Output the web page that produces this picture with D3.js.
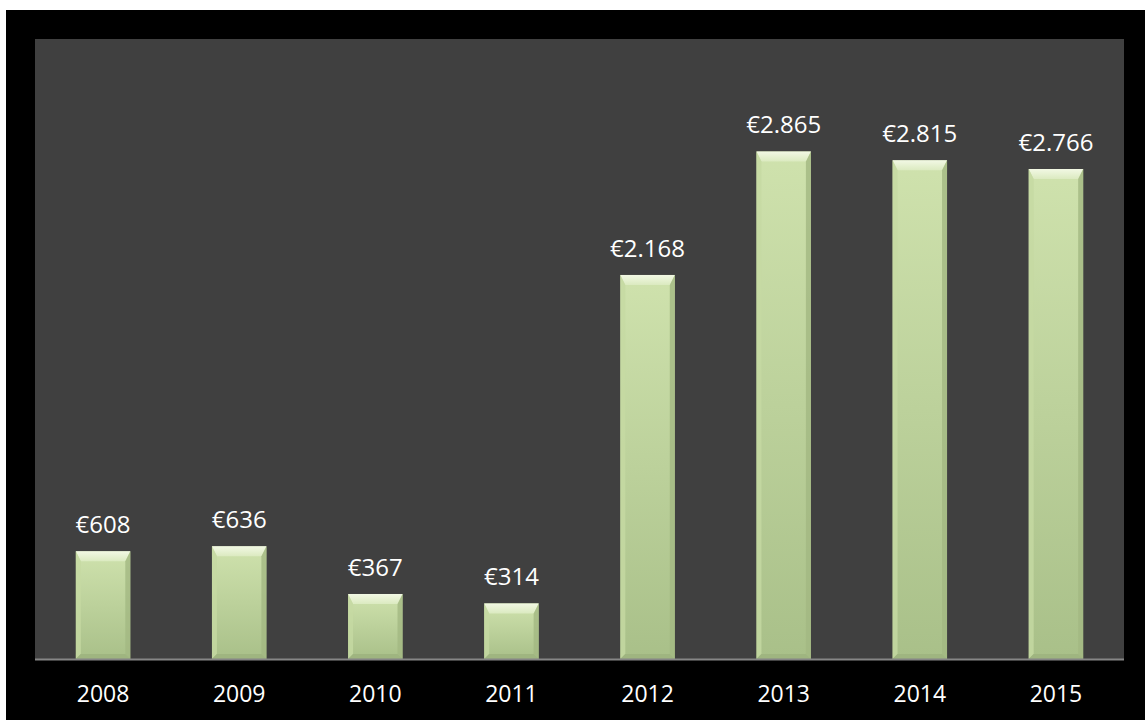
<!DOCTYPE html>
<html><head><meta charset="utf-8">
<script src="https://d3js.org/d3.v7.min.js"></script>
<style>html,body{margin:0;padding:0;background:#fff;}svg{display:block;}</style>
</head><body>
<svg id="c" width="1145" height="720"></svg>
<script>
const years = ["2008","2009","2010","2011","2012","2013","2014","2015"];
const values = [608, 636, 367, 314, 2168, 2865, 2815, 2766];
const labels = ["€608","€636","€367","€314","€2.168","€2.865","€2.815","€2.766"];

const svg = d3.select("#c");
const W = 1145, H = 720;
const plot = {l:35, t:39, r:1124, b:659};
const FONT = "'Open Sans', 'Noto Sans', sans-serif";

const defs = svg.append("defs");
const g1 = defs.append("linearGradient").attr("id","face").attr("x1",0).attr("y1",0).attr("x2",0).attr("y2",1);
g1.append("stop").attr("offset","0%").attr("stop-color","#cfe2ad");
g1.append("stop").attr("offset","100%").attr("stop-color","#a9c089");
const g2 = defs.append("linearGradient").attr("id","topb").attr("x1",0).attr("y1",0).attr("x2",0).attr("y2",1);
g2.append("stop").attr("offset","0%").attr("stop-color","#f2f8e4");
g2.append("stop").attr("offset","100%").attr("stop-color","#dbeac0");

svg.append("rect").attr("x",6).attr("y",10).attr("width",W-6).attr("height",H-10).attr("fill","#000");
svg.append("rect").attr("x",plot.l).attr("y",plot.t).attr("width",plot.r-plot.l).attr("height",plot.b-plot.t).attr("fill","#404040");

const x = d3.scaleBand().domain(years).range([plot.l, plot.r]).paddingInner(0.6).paddingOuter(0.3);
const y = d3.scaleLinear().domain([0,3500]).range([plot.b, plot.t]);

const bars = svg.append("g").selectAll("g").data(years).join("g");
bars.each(function(d,i){
  const g = d3.select(this);
  const x0 = x(d), w = x.bandwidth(), y0 = y(values[i]), y1 = y(0);
  const bt = 10, bs = 5, bb = 5;
  g.append("rect").attr("x",x0).attr("y",y0).attr("width",w).attr("height",y1-y0).attr("fill","url(#face)");
  g.append("path").attr("d",`M${x0},${y0}L${x0+w},${y0}L${x0+w-bs},${y0+bt}L${x0+bs},${y0+bt}Z`).attr("fill","url(#topb)");
  g.append("path").attr("d",`M${x0},${y0}L${x0+bs},${y0+bt}L${x0+bs},${y1-bb}L${x0},${y1}Z`).attr("fill","#c6daa3").attr("opacity",0.8);
  g.append("path").attr("d",`M${x0+w},${y0}L${x0+w-bs},${y0+bt}L${x0+w-bs},${y1-bb}L${x0+w},${y1}Z`).attr("fill","#a2b882").attr("opacity",0.8);
  g.append("path").attr("d",`M${x0},${y1}L${x0+bs},${y1-bb}L${x0+w-bs},${y1-bb}L${x0+w},${y1}Z`).attr("fill","#9fb580");
  g.append("text").attr("x",x0+w/2).attr("y",y0-18).attr("text-anchor","middle")
    .attr("font-family",FONT).attr("font-size",24).attr("fill","#fff").text(labels[i]);
});

svg.append("line").attr("x1",plot.l).attr("x2",plot.r).attr("y1",plot.b+0.5).attr("y2",plot.b+0.5).attr("stroke","#868686").attr("stroke-width",2);

const ax = svg.append("g").attr("transform",`translate(0,${plot.b})`).call(d3.axisBottom(x).tickSize(0).tickPadding(0));
ax.select(".domain").remove();
ax.selectAll("text").attr("y",43).attr("dy",0).attr("fill","#fff")
  .attr("font-family",FONT).attr("font-size",23);
</script>
</body></html>
